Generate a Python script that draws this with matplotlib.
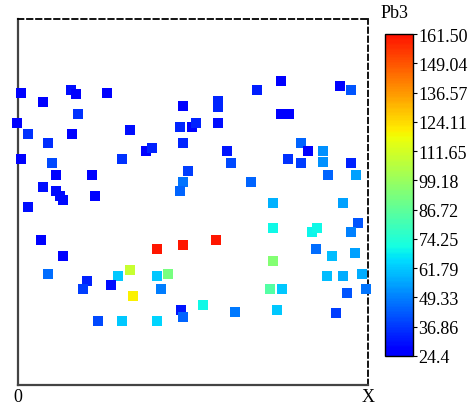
import matplotlib
matplotlib.use('Agg')
import matplotlib.pyplot as plt
import numpy as np
from matplotlib.colors import ListedColormap

plt.rcParams['font.family'] = ['Liberation Serif', 'DejaVu Serif']

# Sample locations (arbitrary units 0-100) and Pb3 values
x = [0.9, 7.1, 15.1, 16.6, 25.4, 47.1, 57.1, 57.1, 68.3, 75.1, 92.0, 95.1,
     17.1, -0.3, 2.9, 15.4, 32.0, 46.3, 49.7, 50.9, 57.1, 75.1, 77.4,
     8.6, 47.1, 36.6, 38.3, 59.7, 60.9, 80.9, 82.9, 87.1, 87.1,
     0.9, 9.7, 10.9, 21.1, 29.7, 48.6, 47.1, 46.3, 66.6, 77.1, 80.9, 88.6, 95.1, 96.6,
     7.1, 10.9, 12.0, 12.9, 22.0, 2.9, 72.9, 92.9,
     97.1, 95.1, 72.9, 84.0, 85.4, 6.6, 39.7, 47.1, 56.6, 85.1, 89.7, 96.3,
     12.9, 72.9, 8.6, 32.0, 42.9, 39.7, 28.6, 88.3, 92.9, 98.3,
     19.7, 18.6, 26.6, 40.9, 32.9, 72.0, 75.4, 94.0, 99.4,
     46.6, 47.1, 52.9, 62.0, 74.0, 90.9, 22.9, 29.7, 39.7]
y = [79.8, 77.3, 80.6, 79.5, 79.8, 76.2, 77.6, 76.0, 80.6, 83.1, 81.7, 80.6,
     74.0, 71.6, 68.6, 68.6, 69.7, 70.5, 70.5, 71.6, 71.6, 74.0, 74.0,
     66.1, 66.1, 63.9, 64.8, 63.9, 60.7, 66.1, 63.9, 63.9, 60.9,
     61.7, 60.7, 57.4, 57.4, 61.7, 58.5, 55.5, 53.0, 55.5, 61.7, 60.7, 57.4, 60.7, 57.4,
     54.1, 53.0, 51.6, 50.5, 51.6, 48.6, 49.7, 49.7,
     44.3, 41.8, 42.9, 41.8, 42.9, 39.6, 37.2, 38.3, 39.6, 37.2, 35.2, 36.1,
     35.2, 33.9, 30.3, 31.4, 30.3, 29.8, 29.8, 29.8, 29.8, 30.3,
     28.4, 26.2, 27.3, 26.2, 24.3, 26.2, 26.2, 25.1, 26.2,
     20.5, 18.6, 21.9, 19.9, 20.5, 19.7, 17.5, 17.5, 17.5]
pb3 = [28, 28, 30, 27, 28, 28, 34, 34, 32, 27, 28, 42,
       36, 28, 36, 28, 30, 34, 28, 33, 30, 27, 27,
       35, 34, 28, 33, 31, 40, 45, 28, 52, 52,
       28, 40, 28, 28, 36, 38, 47, 45, 45, 36, 38, 45, 33, 55,
       30, 29, 29, 29, 28, 30, 58, 55,
       42, 50, 70, 69, 70, 28, 160, 160, 160, 46, 60, 55,
       28, 95, 46, 109, 92, 62, 62, 60, 57, 57,
       33, 38, 30, 49, 120, 84, 62, 42, 47,
       31, 45, 70, 48, 62, 38, 40, 62, 64]

cbar_labels = ["161.50", "149.04", "136.57", "124.11", "111.65", "99.18",
               "86.72", "74.25", "61.79", "49.33", "36.86", "24.4"]
cbar_title = "Pb3"
x_labels = ["0", "X"]

vmin, vmax = 24.4, 161.5

fig = plt.figure(figsize=(4.77, 4.06), dpi=100)
ax = fig.add_axes([18/477, 1-386/406, 350/477, 366/406])
cmap = ListedColormap(plt.cm.jet(np.linspace(0.11, 0.89, 256)))
sc = ax.scatter(x, y, c=pb3, cmap=cmap, vmin=vmin, vmax=vmax, marker='s',
                s=58, linewidths=0, clip_on=False, zorder=3)
ax.set_xlim(0, 100)
ax.set_ylim(0, 100)
ax.set_xticks([])
ax.set_yticks([])
for side in ['left', 'bottom']:
    ax.spines[side].set_color('#444444')
    ax.spines[side].set_linewidth(1.6)
for side in ['top', 'right']:
    ax.spines[side].set_color('black')
    ax.spines[side].set_linewidth(1.3)
    ax.spines[side].set_linestyle((0, (3, 2)))

ax.text(0, -12/366, x_labels[0], transform=ax.transAxes, ha='center', va='center', fontsize=13)
ax.text(1, -12/366, x_labels[1], transform=ax.transAxes, ha='center', va='center', fontsize=13)

cax = fig.add_axes([385/477, 1-357/406, 28/477, 322/406])
cb = fig.colorbar(sc, cax=cax)
tick_vals = [float(t) for t in cbar_labels]
cb.set_ticks(tick_vals)
cb.set_ticklabels(cbar_labels)
cax.tick_params(axis='y', direction='out', length=3, width=0.8, pad=1, labelsize=13)
cb.outline.set_linewidth(1.0)
cb.outline.set_edgecolor('black')
fig.text(395/477, 1-14/406, cbar_title, ha='center', va='center', fontsize=13)

fig.savefig('out.png', dpi=100)
